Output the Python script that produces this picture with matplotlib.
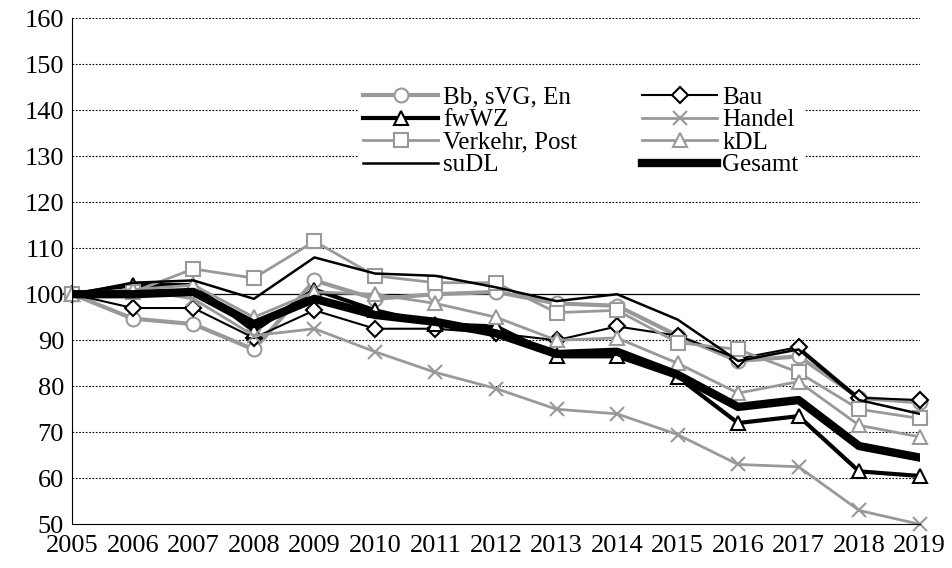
import matplotlib
matplotlib.use("Agg")
import matplotlib.pyplot as plt

years = list(range(2005, 2020))

bb = [100, 94.7, 93.5, 88, 103, 99, 100, 100.5, 98, 97.5, 91, 85.5, 86.5, 77.5, 76.5]
bau = [100, 97, 97, 90.5, 96.5, 92.5, 92.5, 91.5, 90, 93, 91, 86, 88.5, 77.5, 77]
fwwz = [100, 102, 102, 92, 101, 96.5, 93.5, 93, 86.5, 86.5, 82, 72, 73.5, 61.5, 60.5]
handel = [100, 101, 99, 91, 92.5, 87.5, 83, 79.5, 75, 74, 69.5, 63, 62.5, 53, 50]
verkehr = [100, 100.5, 105.5, 103.5, 111.5, 104, 102.5, 102.5, 96, 96.5, 89.5, 88, 83, 75, 73]
kdl = [100, 101, 102, 95, 100.5, 100, 98, 95, 90, 90.5, 85, 78.5, 81, 71.5, 69]
sudl = [100, 102.5, 103, 99, 108, 104.5, 104, 101.5, 98.5, 100, 94.5, 85.5, 88, 77, 74]
gesamt = [100, 100, 100.5, 93.5, 99, 95.5, 94, 91.5, 87, 87.5, 82.5, 75.5, 77, 67, 64.5]

plt.rcParams["font.family"] = ["Liberation Serif", "DejaVu Serif"]
gray = "#999999"

fig, ax = plt.subplots(figsize=(9.52, 5.68), dpi=100)
fig.subplots_adjust(left=0.076, right=0.966, top=0.968, bottom=0.077)

for v in range(60, 161, 10):
    if v != 100:
        ax.axhline(v, color="black", lw=0.8, ls=(0, (1.5, 1.5)), zorder=0)
ax.axhline(100, color="black", lw=0.9, zorder=0)

mk = dict(markersize=10, markerfacecolor="white", markeredgewidth=1.5, clip_on=False)
h_bb, = ax.plot(years, bb, color=gray, lw=3, marker="o", markeredgecolor=gray, label="Bb, sVG, En", **mk)
h_bau, = ax.plot(years, bau, color="black", lw=1.5, marker="D", markersize=8, markerfacecolor="white",
                 markeredgewidth=1.5, clip_on=False, label="Bau")
h_fw, = ax.plot(years, fwwz, color="black", lw=3, marker="^", markeredgecolor="black", label="fwWZ", **mk)
h_ha, = ax.plot(years, handel, color=gray, lw=2, marker="x", markersize=10, markeredgewidth=1.5,
                clip_on=False, label="Handel")
h_ve, = ax.plot(years, verkehr, color=gray, lw=2, marker="s", markeredgecolor=gray, label="Verkehr, Post", **mk)
h_kd, = ax.plot(years, kdl, color=gray, lw=2, marker="^", markeredgecolor=gray, label="kDL", **mk)
h_su, = ax.plot(years, sudl, color="black", lw=1.8, label="suDL")
h_ge, = ax.plot(years, gesamt, color="black", lw=6, label="Gesamt")

ax.set_ylim(50, 160)
ax.set_xlim(2005, 2019)
ax.set_yticks(range(50, 161, 10))
ax.set_xticks(years)
ax.tick_params(labelsize=19, length=0)
ax.tick_params(axis="x", pad=8)
ax.tick_params(axis="y", pad=6)
for s in ["top", "right"]:
    ax.spines[s].set_visible(False)

handles = [h_bb, h_fw, h_ve, h_su, h_bau, h_ha, h_kd, h_ge]
ax.legend(handles=handles, ncol=2, loc="upper center", bbox_to_anchor=(0.6, 0.9), fontsize=18,
          frameon=True, facecolor="white", edgecolor="white", framealpha=1,
          handlelength=3, handletextpad=0.2, columnspacing=2.6, labelspacing=0.0, borderpad=0.2)

fig.savefig("out.png")
